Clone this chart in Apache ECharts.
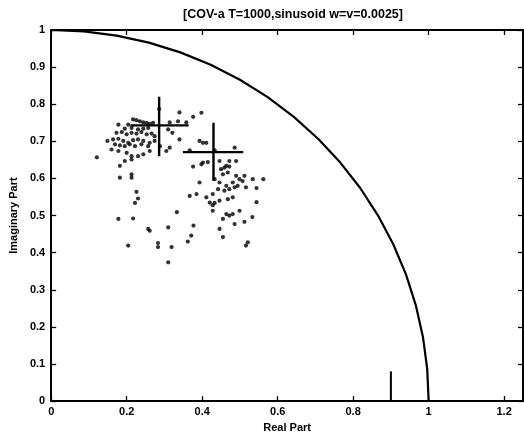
<!DOCTYPE html>
<html>
<head>
<meta charset="utf-8">
<script src="https://cdn.jsdelivr.net/npm/echarts@6/dist/echarts.min.js"></script>
<style>
html,body{margin:0;padding:0;background:#fff;}
#chart{width:524px;height:438px;}
</style>
</head>
<body>
<div id="chart"></div>
<script>
// ---- data ----
const titleText = '[COV-a T=1000,sinusoid w=v=0.0025]';
const xTicks = [0, 0.2, 0.4, 0.6, 0.8, 1, 1.2];
const yTicks = [0, 0.1, 0.2, 0.3, 0.4, 0.5, 0.6, 0.7, 0.8, 0.9, 1];

// unit circle quarter arc (5 degree steps)
const arcPoints = [
  [1.0000, 0.0000], [0.9962, 0.0872], [0.9848, 0.1736], [0.9659, 0.2588],
  [0.9397, 0.3420], [0.9063, 0.4226], [0.8660, 0.5000], [0.8192, 0.5736],
  [0.7660, 0.6428], [0.7071, 0.7071], [0.6428, 0.7660], [0.5736, 0.8192],
  [0.5000, 0.8660], [0.4226, 0.9063], [0.3420, 0.9397], [0.2588, 0.9659],
  [0.1736, 0.9848], [0.0872, 0.9962], [0.0000, 1.0000]
];

// marker at real axis
const stemPoints = [[0.9, 0], [0.9, 0.08]];

// crosshairs
const cross1H = [[0.21, 0.743], [0.364, 0.743]];
const cross1V = [[0.286, 0.66], [0.286, 0.82]];
const cross2H = [[0.349, 0.671], [0.509, 0.671]];
const cross2V = [[0.43, 0.594], [0.43, 0.75]];

// scattered eigenvalue estimates
const scatterPoints = [
  [0.340,0.778],[0.398,0.777],[0.286,0.787],[0.217,0.759],[0.226,0.757],[0.235,0.754],
  [0.244,0.751],[0.253,0.750],[0.261,0.747],[0.270,0.750],[0.178,0.745],[0.204,0.745],
  [0.195,0.734],[0.213,0.736],[0.230,0.732],[0.244,0.734],[0.257,0.736],[0.314,0.751],
  [0.336,0.754],[0.358,0.751],[0.376,0.766],[0.173,0.723],[0.187,0.725],[0.200,0.719],
  [0.213,0.723],[0.226,0.721],[0.239,0.725],[0.253,0.719],[0.266,0.721],[0.274,0.714],
  [0.149,0.701],[0.164,0.705],[0.178,0.707],[0.191,0.701],[0.204,0.696],[0.217,0.703],
  [0.230,0.705],[0.244,0.701],[0.261,0.696],[0.274,0.701],[0.169,0.692],[0.182,0.689],
  [0.195,0.687],[0.208,0.692],[0.222,0.687],[0.239,0.692],[0.257,0.687],[0.288,0.687],
  [0.314,0.683],[0.160,0.678],[0.178,0.674],[0.200,0.669],[0.213,0.660],[0.230,0.660],
  [0.244,0.665],[0.261,0.674],[0.305,0.674],[0.340,0.705],[0.321,0.723],[0.310,0.732],
  [0.195,0.647],[0.213,0.651],[0.182,0.634],[0.213,0.611],[0.213,0.602],[0.182,0.602],
  [0.226,0.564],[0.230,0.546],[0.222,0.534],[0.217,0.492],[0.178,0.491],[0.333,0.509],
  [0.257,0.464],[0.261,0.459],[0.310,0.468],[0.377,0.473],[0.371,0.446],[0.362,0.430],
  [0.204,0.419],[0.283,0.426],[0.283,0.415],[0.319,0.415],[0.310,0.374],[0.121,0.657],
  [0.393,0.701],[0.402,0.696],[0.411,0.696],[0.367,0.676],[0.433,0.676],[0.486,0.683],
  [0.376,0.632],[0.398,0.638],[0.402,0.643],[0.415,0.644],[0.446,0.647],[0.472,0.647],
  [0.490,0.647],[0.450,0.625],[0.459,0.629],[0.464,0.634],[0.472,0.632],[0.455,0.611],
  [0.468,0.616],[0.490,0.607],[0.499,0.598],[0.512,0.607],[0.393,0.589],[0.433,0.598],
  [0.446,0.589],[0.464,0.580],[0.481,0.589],[0.494,0.580],[0.507,0.593],[0.367,0.553],
  [0.385,0.558],[0.411,0.549],[0.428,0.558],[0.442,0.571],[0.459,0.567],[0.472,0.571],
  [0.486,0.576],[0.516,0.576],[0.420,0.535],[0.428,0.528],[0.433,0.534],[0.446,0.540],
  [0.468,0.544],[0.481,0.549],[0.428,0.513],[0.464,0.504],[0.472,0.500],[0.481,0.504],
  [0.499,0.513],[0.455,0.491],[0.486,0.477],[0.512,0.483],[0.446,0.464],[0.455,0.442],
  [0.521,0.428],[0.516,0.419],[0.534,0.598],[0.562,0.598],[0.544,0.574],[0.544,0.536],
  [0.533,0.496]
];

// ---- chart ----
const chart = echarts.init(document.getElementById('chart'), null, {renderer: 'canvas'});
const FONT = 'Liberation Sans';
const lineBlack = {color: '#000', width: 2};
const labelStyle = {color: '#000', fontFamily: FONT, fontSize: 11, fontWeight: 'bold'};

function lineSeries(data, width) {
  return {
    type: 'line', data: data, symbol: 'none', silent: true,
    lineStyle: {color: '#000', width: width}, z: 3
  };
}

chart.setOption({
  animation: false,
  backgroundColor: '#fff',
  title: {
    text: titleText, left: 288, top: 3, textAlign: 'center',
    textStyle: {color: '#000', fontFamily: FONT, fontSize: 12.5, fontWeight: 'bold'}
  },
  grid: {left: 51, right: 1, top: 30, bottom: 35, containLabel: false},
  xAxis: [
    {
      type: 'value', min: 0, max: 1.25, interval: 0.2, position: 'bottom',
      axisLine: {onZero: false, lineStyle: lineBlack},
      axisTick: {inside: true, length: 5, lineStyle: {color: '#000', width: 1.3}},
      axisLabel: Object.assign({margin: 5, showMaxLabel: false,
        formatter: v => (xTicks.indexOf(+v.toFixed(2)) >= 0 ? String(+v.toFixed(2)) : '')}, labelStyle),
      splitLine: {show: false},
      name: 'Real Part', nameLocation: 'middle', nameGap: 17,
      nameTextStyle: labelStyle
    },
    {
      type: 'value', min: 0, max: 1.25, interval: 0.2, position: 'top',
      axisLine: {onZero: false, lineStyle: lineBlack},
      axisTick: {inside: true, length: 5, lineStyle: {color: '#000', width: 1.3}},
      axisLabel: {show: false}, splitLine: {show: false}
    }
  ],
  yAxis: [
    {
      type: 'value', min: 0, max: 1, interval: 0.1, position: 'left',
      axisLine: {onZero: false, lineStyle: lineBlack},
      axisTick: {inside: true, length: 5, lineStyle: {color: '#000', width: 1.3}},
      axisLabel: Object.assign({margin: 6,
        formatter: v => String(+v.toFixed(1))}, labelStyle),
      splitLine: {show: false},
      name: 'Imaginary Part', nameLocation: 'middle', nameGap: 27, nameRotate: 90,
      nameTextStyle: labelStyle
    },
    {
      type: 'value', min: 0, max: 1, interval: 0.1, position: 'right',
      axisLine: {onZero: false, lineStyle: lineBlack},
      axisTick: {inside: true, length: 5, lineStyle: {color: '#000', width: 1.3}},
      axisLabel: {show: false}, splitLine: {show: false}
    }
  ],
  series: [
    lineSeries(arcPoints, 2.2),
    lineSeries(stemPoints, 2),
    lineSeries(cross1H, 2.4),
    lineSeries(cross1V, 2.4),
    lineSeries(cross2H, 2.4),
    lineSeries(cross2V, 2.4),
    {
      type: 'scatter', data: scatterPoints, symbol: 'circle', symbolSize: 4.2,
      itemStyle: {color: '#000'}, silent: true, z: 4
    }
  ]
});
</script>
</body>
</html>
